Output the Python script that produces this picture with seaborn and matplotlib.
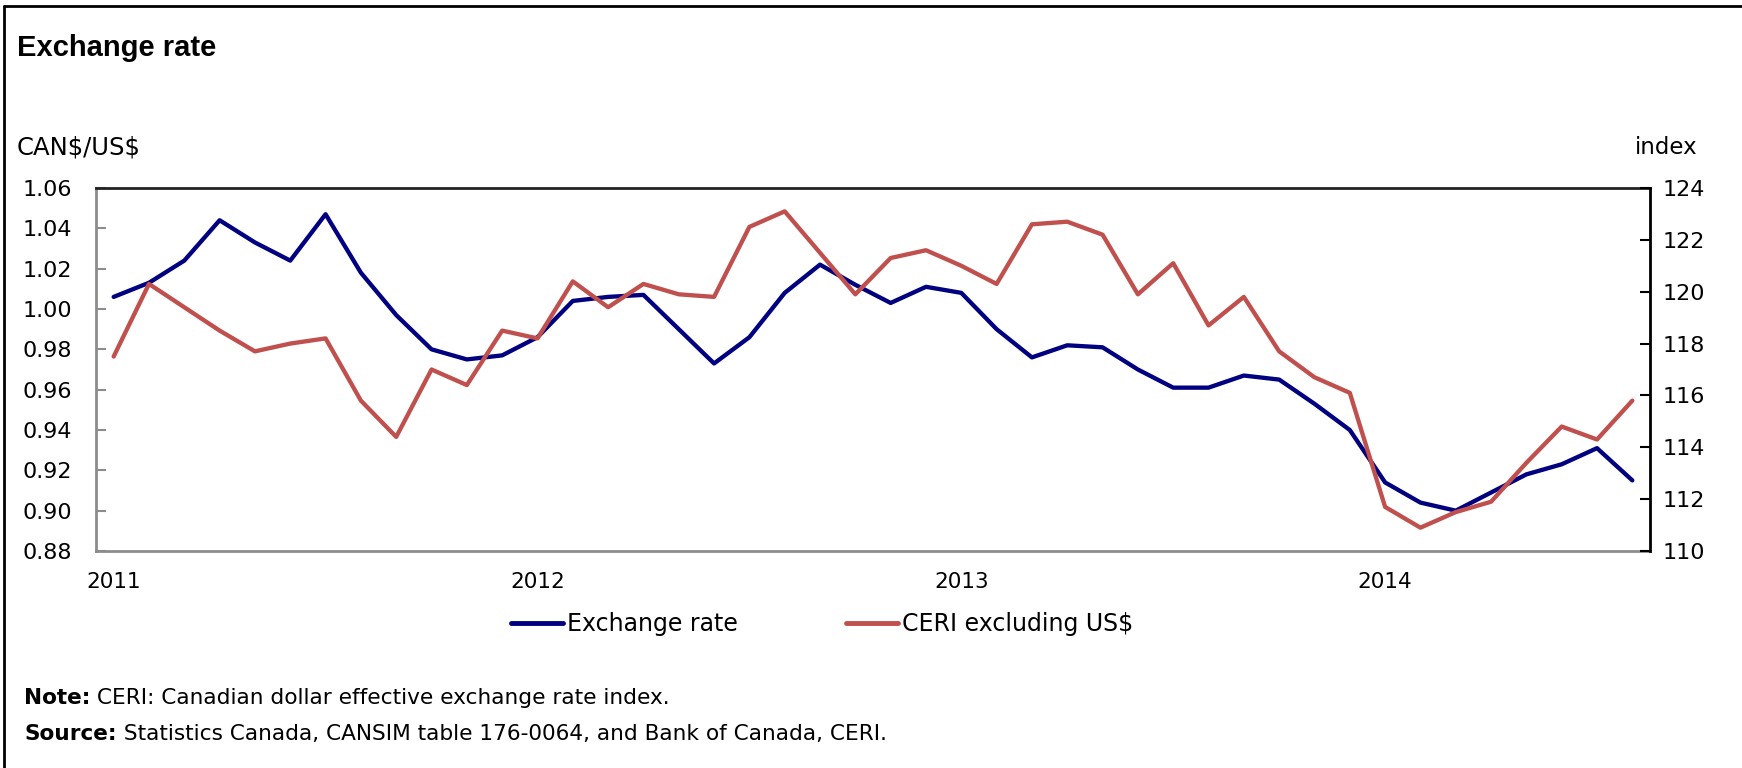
import numpy as np
import pandas as pd
import matplotlib
matplotlib.use("Agg")
import matplotlib.pyplot as plt
from matplotlib.lines import Line2D
import seaborn as sns

# monthly data, Jan 2011 - Aug 2014
year_labels = ["2011", "2012", "2013", "2014"]
exchange_rate = [1.006, 1.013, 1.024, 1.044, 1.033, 1.024, 1.047, 1.018, 0.997, 0.980, 0.975, 0.977,
                 0.986, 1.004, 1.006, 1.007, 0.990, 0.973, 0.986, 1.008, 1.022, 1.012, 1.003, 1.011,
                 1.008, 0.990, 0.976, 0.982, 0.981, 0.970, 0.961, 0.961, 0.967, 0.965, 0.953, 0.940,
                 0.914, 0.904, 0.900, 0.909, 0.918, 0.923, 0.931, 0.915]
ceri_ex_us = [117.5, 120.3, 119.4, 118.5, 117.7, 118.0, 118.2, 115.8, 114.4, 117.0, 116.4, 118.5,
              118.2, 120.4, 119.4, 120.3, 119.9, 119.8, 122.5, 123.1, 121.5, 119.9, 121.3, 121.6,
              121.0, 120.3, 122.6, 122.7, 122.2, 119.9, 121.1, 118.7, 119.8, 117.7, 116.7, 116.1,
              111.7, 110.9, 111.5, 111.9, 113.4, 114.8, 114.3, 115.8]
left_ticks = [0.88, 0.90, 0.92, 0.94, 0.96, 0.98, 1.00, 1.02, 1.04, 1.06]
right_ticks = [110, 112, 114, 116, 118, 120, 122, 124]

df = pd.DataFrame({"month": np.arange(len(exchange_rate)),
                   "rate": exchange_rate, "ceri": ceri_ex_us})

sns.set_theme(style="white")
plt.rcParams["font.family"] = ["DejaVu Sans"]
plt.rcParams["text.color"] = "black"
plt.rcParams["xtick.color"] = "black"
plt.rcParams["ytick.color"] = "black"

W, H = 1742, 768
fig = plt.figure(figsize=(W / 100, H / 100), dpi=100)
ax = fig.add_axes([96 / W, 1 - 551 / H, (1650 - 96) / W, (551 - 188) / H])
ax2 = ax.twinx()

blue = "#000080"
red = "#C0504D"
grey = "#8c8c8c"

sns.lineplot(data=df, x="month", y="rate", ax=ax, color=blue, linewidth=3.1, label="Exchange rate", legend=False)
sns.lineplot(data=df, x="month", y="ceri", ax=ax2, color=red, linewidth=3.1, label="CERI excluding US$", legend=False)

ax.set_xlim(-0.5, len(exchange_rate) - 0.5)
ax.set_ylim(0.88, 1.06)
ax2.set_ylim(110, 124)
ax.set_yticks(left_ticks)
ax.set_yticklabels([f"{v:.2f}" for v in left_ticks])
ax2.set_yticks(right_ticks)
ax2.set_yticklabels([str(v) for v in right_ticks])
ax.set_xticks([0, 12, 24, 36])
ax.set_xticklabels(year_labels)
ax.set_xlabel("")
ax.set_ylabel("")
ax2.set_ylabel("")

ax.tick_params(axis="y", direction="in", length=7, width=1.5, color=grey, labelcolor="black",
               pad=17, labelsize=16, left=True)
ax.tick_params(axis="x", length=0, pad=15, labelsize=15.5, labelcolor="black")
ax2.tick_params(axis="y", direction="in", length=7, width=1.5, color="black", labelcolor="black",
                pad=9, labelsize=16, right=True)

for s in ["left", "bottom"]:
    ax.spines[s].set_color(grey)
    ax.spines[s].set_linewidth(2)
ax.spines["top"].set_color("#222222")
ax.spines["top"].set_linewidth(2)
ax.spines["right"].set_visible(False)
for s in ["left", "bottom", "top"]:
    ax2.spines[s].set_visible(False)
ax2.spines["right"].set_color("black")
ax2.spines["right"].set_linewidth(2)

# legend below the plot
handles = [Line2D([], [], color=blue, linewidth=3.5), Line2D([], [], color=red, linewidth=3.5)]
fig.legend(handles, ["Exchange rate", "CERI excluding US$"], loc="center",
           bbox_to_anchor=(822 / W, 1 - 624 / H), ncol=2, frameon=False,
           fontsize=17, handlelength=2.2, handletextpad=0.15, columnspacing=4.6)

# titles and axis units
fig.text(17 / W, 1 - 48 / H, "Exchange rate", family="Liberation Sans", weight="bold",
         fontsize=21, va="center", ha="left")
fig.text(17 / W, 1 - 147 / H, "CAN\\$/US\\$", fontsize=17.5, va="center", ha="left")
fig.text(1697 / W, 1 - 147 / H, "index", fontsize=16.5, va="center", ha="right")

# note and source
renderer = fig.canvas.get_renderer()
for label, rest, ypix in [("Note:", " CERI: Canadian dollar effective exchange rate index.", 698),
                          ("Source:", " Statistics Canada, CANSIM table 176-0064, and Bank of Canada, CERI.", 734)]:
    t = fig.text(24 / W, 1 - ypix / H, label, fontsize=15.6, weight="bold", va="center", ha="left")
    bb = t.get_window_extent(renderer)
    fig.text(bb.x1 / W, 1 - ypix / H, rest, fontsize=15.6, va="center", ha="left")

# frame around the figure (left and top)
fig.add_artist(Line2D([4 / W, 4 / W], [0, 1 - 6 / H], color="black", linewidth=2, transform=fig.transFigure))
fig.add_artist(Line2D([4 / W, 1], [1 - 6 / H, 1 - 6 / H], color="black", linewidth=2, transform=fig.transFigure))

fig.savefig("out.png", dpi=100)
